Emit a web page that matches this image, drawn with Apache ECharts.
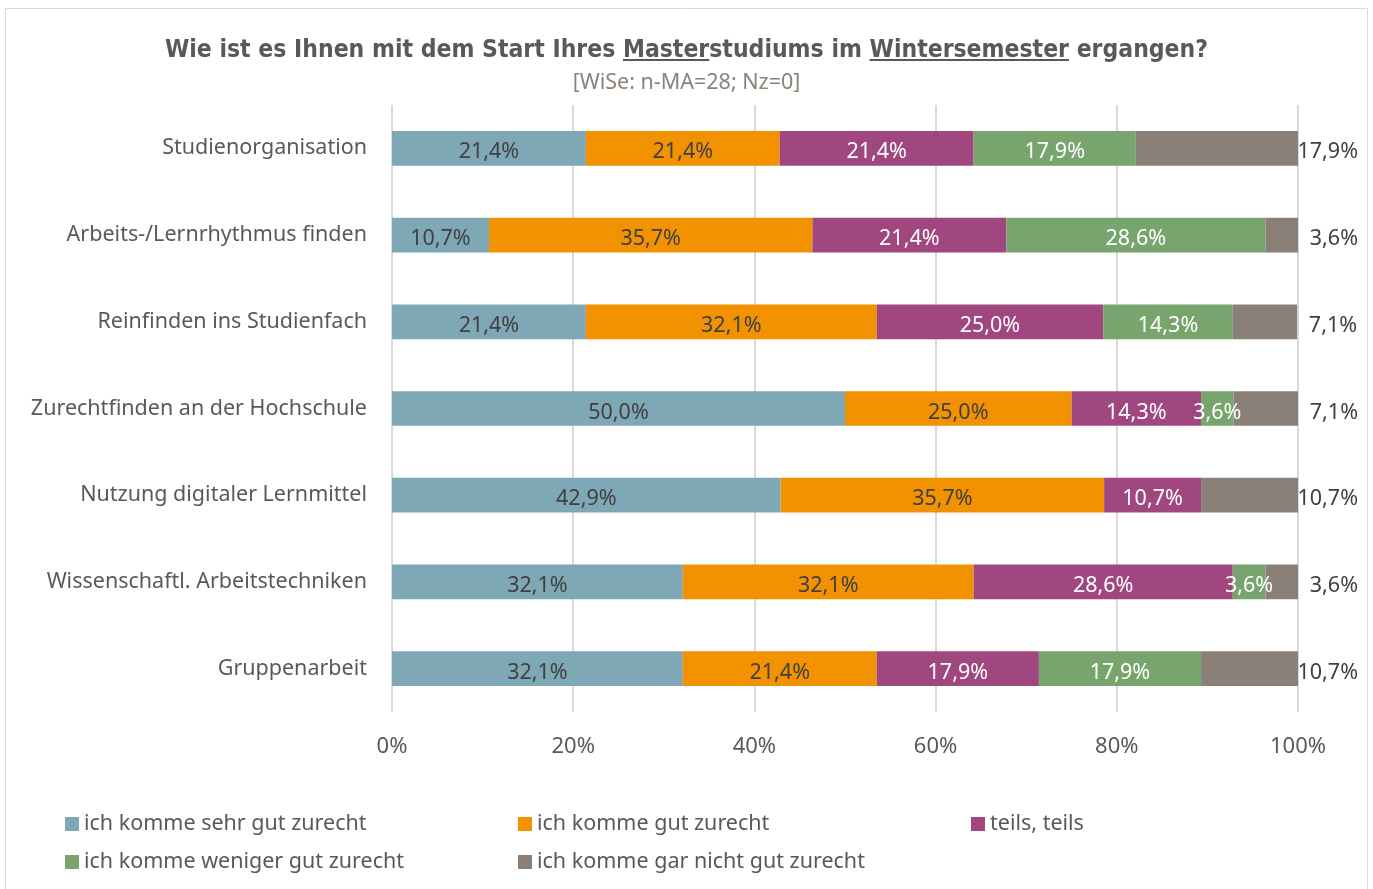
<!DOCTYPE html>
<html>
<head>
<meta charset="utf-8">
<script src="https://cdn.jsdelivr.net/npm/echarts@6/dist/echarts.min.js"></script>
<style>
html,body{margin:0;padding:0;background:#fff;}
#chart{width:1373px;height:889px;}
</style>
</head>
<body>
<div id="chart"></div>
<script>
// ---- data ----
const categories = ['Studienorganisation','Arbeits-/Lernrhythmus finden','Reinfinden ins Studienfach','Zurechtfinden an der Hochschule','Nutzung digitaler Lernmittel','Wissenschaftl. Arbeitstechniken','Gruppenarbeit'];
const seriesNames = ['ich komme sehr gut zurecht','ich komme gut zurecht','teils, teils','ich komme weniger gut zurecht','ich komme gar nicht gut zurecht'];
const sehrGut  = [21.4, 10.7, 21.4, 50.0, 42.9, 32.1, 32.1];
const gut      = [21.4, 35.7, 32.1, 25.0, 35.7, 32.1, 21.4];
const teils    = [21.4, 21.4, 25.0, 14.3, 10.7, 28.6, 17.9];
const weniger  = [17.9, 28.6, 14.3, 3.6, 0, 3.6, 17.9];
const garNicht = [17.9, 3.6, 7.1, 7.1, 10.7, 3.6, 10.7];
const xTicks = [0, 20, 40, 60, 80, 100];
const titleText = 'Wie ist es Ihnen mit dem Start Ihres Masterstudiums im Wintersemester ergangen?';
const subText = '[WiSe: n-MA=28; Nz=0]';

const colors = ['#7FA8B6','#F29200','#A14780','#78A46E','#8A8077'];
const labelColors = ['#404040','#404040','#ffffff','#ffffff','#404040'];
const FONT = '"Noto Sans", sans-serif';
const TFONT = '"Liberation Sans Narrow", "DejaVu Sans Condensed", sans-serif';
const TSIZE = 24.5;

const chart = echarts.init(document.getElementById('chart'));
const allData = [sehrGut, gut, teils, weniger, garNicht];

function fmt(v){ return v.toFixed(1).replace('.', ',') + '%'; }

const series = allData.map((d, i) => {
  const last = i === allData.length - 1;
  return {
    name: seriesNames[i],
    type: 'bar',
    stack: 'total',
    barWidth: '40%',
    data: d,
    itemStyle: { color: colors[i] },
    label: {
      show: true,
      position: last ? 'right' : 'inside',
      distance: 0,
      align: last ? 'right' : 'center',
      offset: last ? [60, 4] : [0, 4],
      color: labelColors[i],
      fontFamily: FONT,
      fontSize: 21.5,
      formatter: p => p.value > 0 ? fmt(p.value) : ''
    },
    emphasis: { disabled: true }
  };
});

const option = {
  animation: false,
  backgroundColor: '#ffffff',
  title: {
    text: titleText,
    subtext: subText,
    left: 'center',
    top: 31,
    itemGap: 3,
    textStyle: { fontFamily: TFONT, fontWeight: 'bold', fontSize: TSIZE, color: '#595959', lineHeight: 30 },
    subtextStyle: { fontFamily: FONT, fontSize: 21.5, color: '#8C8279', lineHeight: 28 }
  },
  legend: {
    left: 60,
    top: 806,
    width: 1360,
    orient: 'horizontal',
    icon: 'rect',
    itemWidth: 14,
    itemHeight: 14,
    itemGap: 12,
    textStyle: { fontFamily: FONT, fontSize: 21.5, color: '#595959', width: 422, lineHeight: 26 },
    data: seriesNames
  },
  grid: { left: 392, right: 75, top: 105, bottom: 177 },
  xAxis: {
    type: 'value',
    min: 0, max: 100, interval: 20,
    axisLine: { show: false },
    axisTick: { show: false },
    splitLine: { show: true, lineStyle: { color: '#D9D9D9', width: 2 } },
    axisLabel: { formatter: '{value}%', fontFamily: FONT, fontSize: 22, color: '#595959', margin: 24 }
  },
  yAxis: {
    type: 'category',
    inverse: true,
    data: categories,
    axisLine: { show: false },
    axisTick: { show: false },
    axisLabel: { fontFamily: FONT, fontSize: 21.5, color: '#595959', margin: 25, padding: [4, 0, 0, 0] }
  },
  series: series,
  graphic: []
};

chart.setOption(option);

// Underlines for "Master" and "Wintersemester" in the title + outer frame
(function(){
  const c = document.createElement('canvas').getContext('2d');
  c.font = 'bold ' + TSIZE + 'px ' + TFONT;
  const full = c.measureText(titleText).width;
  const x0 = 1373 / 2 - full / 2;
  function seg(word){
    const idx = titleText.indexOf(word);
    const pre = c.measureText(titleText.slice(0, idx)).width;
    const w = c.measureText(word).width;
    return [x0 + pre, w];
  }
  const m = seg('Master');
  const w = seg('Wintersemester');
  const uy = 59;
  chart.setOption({
    graphic: [
      { type: 'rect', shape: { x: 5.5, y: 8.5, width: 1362, height: 900 }, style: { fill: 'none', stroke: '#D9D9D9', lineWidth: 1 }, silent: true },
      { type: 'rect', shape: { x: m[0], y: uy, width: m[1], height: 2 }, style: { fill: '#595959' }, silent: true },
      { type: 'rect', shape: { x: w[0], y: uy, width: w[1], height: 2 }, style: { fill: '#595959' }, silent: true }
    ]
  });
})();
</script>
</body>
</html>
